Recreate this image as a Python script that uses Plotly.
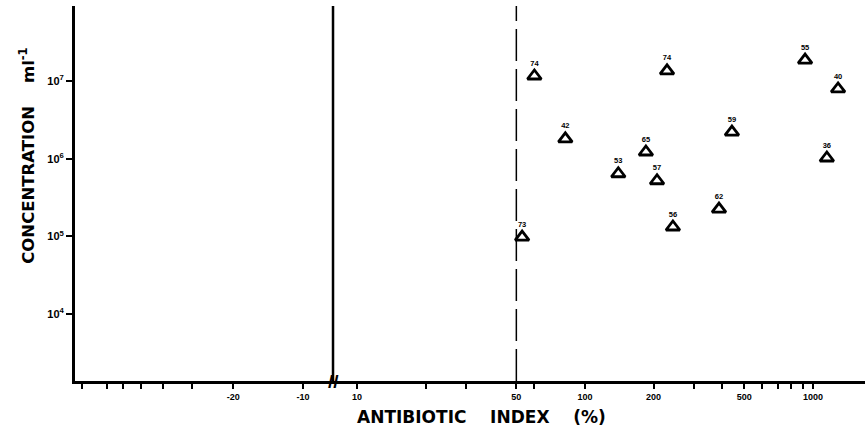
import plotly.graph_objects as go

# Data
antibiotic_index = [53, 60, 82, 140, 185, 207, 243, 229, 923, 1288, 441, 1150, 387]
concentration = [9.8e4, 1.16e7, 1.8e6, 6.4e5, 1.22e6, 5.2e5, 1.32e5, 1.35e7, 1.86e7, 7.9e6, 2.2e6, 1.02e6, 2.25e5]
point_labels = ["73", "74", "42", "53", "65", "57", "56", "74", "55", "40", "59", "36", "62"]

y_tickvals = [1e4, 1e5, 1e6, 1e7]
y_ticktext = ["10<sup>4</sup>", "10<sup>5</sup>", "10<sup>6</sup>", "10<sup>7</sup>"]

neg_tickvals = [90, 70, 60, 50, 40, 30, 20, 10]          # magnitudes of negative index
neg_ticktext = ["", "", "", "", "", "", "-20", "-10"]

pos_tickvals = [10, 20, 30, 50, 60, 100, 200, 300, 400, 500, 600, 700, 800, 900, 1000]
pos_ticktext = ["10", "", "", "50", "", "100", "200", "", "", "500", "", "", "", "", "1000"]

threshold = 50

FONT = "Liberation Sans"
TFONT = "DejaVu Sans"
split = 0.3266

fig = go.Figure()
# empty trace so the negative-index (left) axis segment is drawn
fig.add_trace(go.Scatter(x=[], y=[], xaxis="x", yaxis="y", mode="markers",
                         showlegend=False, hoverinfo="skip"))
fig.add_trace(go.Scatter(
    x=antibiotic_index, y=concentration, text=point_labels,
    xaxis="x2", yaxis="y",
    mode="markers+text", textposition="top center",
    textfont=dict(family=FONT, size=7.5, color="black", weight="bold"),
    marker=dict(symbol="triangle-up-open", size=12, color="black",
                line=dict(width=2.8, color="black")),
    showlegend=False, cliponaxis=False,
))

axis_common = dict(showline=True, linewidth=3, linecolor="black", ticks="outside",
                   ticklen=5, tickwidth=2, tickcolor="black", showgrid=False, zeroline=False,
                   automargin=False,
                   tickfont=dict(family=FONT, size=9, color="black", weight="bold"))

fig.update_layout(
    width=865, height=440,
    margin=dict(l=75, r=0, t=6, b=59),
    paper_bgcolor="white", plot_bgcolor="white",
    xaxis=dict(domain=[0, split], type="log", range=[1.983, 0.871], anchor="y",
               tickmode="array", tickvals=neg_tickvals, ticktext=neg_ticktext, **axis_common),
    xaxis2=dict(domain=[split, 1], type="log", range=[0.895, 3.228], anchor="y",
                tickmode="array", tickvals=pos_tickvals, ticktext=pos_ticktext, **axis_common),
    yaxis=dict(type="log", range=[3.139, 7.965], anchor="x",
               tickmode="array", tickvals=y_tickvals, ticktext=y_ticktext, **axis_common),
)
fig.update_yaxes(tickfont=dict(size=11), ticklen=6)

# solid vertical line at the axis break
fig.add_shape(type="line", xref="x2 domain", yref="paper", x0=0, x1=0, y0=0, y1=1,
              line=dict(color="black", width=2.5))
# dashed threshold line
fig.add_shape(type="line", xref="x2", yref="paper", x0=threshold, x1=threshold, y0=0, y1=1,
              line=dict(color="black", width=1.5, dash="32px,8px"))

# break mark on x axis
fig.add_annotation(text="<b>//</b>", xref="paper", yref="paper", x=split, y=0,
                   showarrow=False, font=dict(family=FONT, size=19, color="black"),
                   xanchor="center", yanchor="middle")

# axis titles
fig.add_annotation(text="ANTIBIOTIC    INDEX    (%)", xref="paper", yref="paper",
                   x=0.514, y=-0.064, yanchor="top", showarrow=False,
                   font=dict(family=TFONT, size=17, color="black", weight="bold"))
fig.add_annotation(text="CONCENTRATION    ml<sup>-1</sup>", xref="paper", yref="paper",
                   x=-0.061, y=0.6, textangle=-90, showarrow=False,
                   xanchor="center", yanchor="middle",
                   font=dict(family=TFONT, size=16.5, color="black", weight="bold"))

fig.write_html("out.html", config={"displayModeBar": False},
               post_script="document.body.style.margin='0px';")
